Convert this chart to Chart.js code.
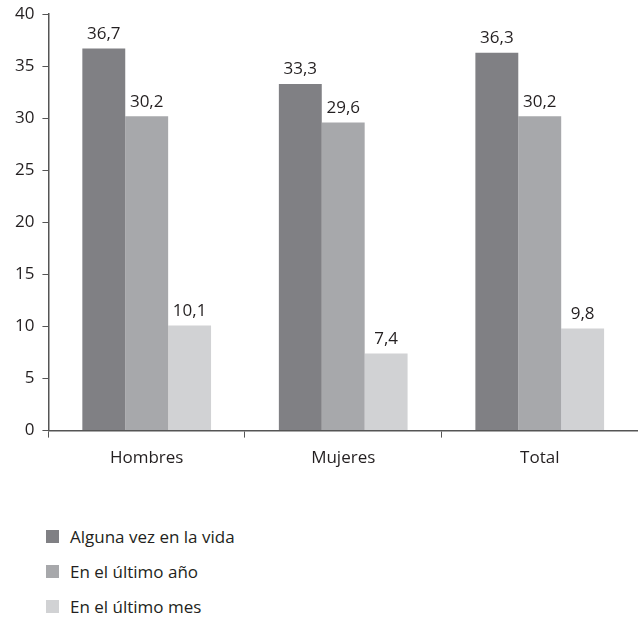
<!DOCTYPE html>
<html>
<head>
<meta charset="utf-8">
<script src="https://cdn.jsdelivr.net/npm/chart.js@4/dist/chart.umd.min.js"></script>
<style>
body{margin:0;background:#fff;font-family:"Open Sans",sans-serif;color:#231f20;overflow:hidden}
#wrap{position:absolute;left:0;top:-4px;width:638px;height:482px}
#legend{position:absolute;left:46px;top:525px;font-size:17px}
#legend div{height:35px;display:flex;align-items:flex-start}
#legend span.box{display:inline-block;width:13px;height:13px;margin-right:11px;margin-top:5px}
</style>
</head>
<body>
<div id="wrap"><canvas id="grafico"></canvas></div>
<div id="legend"></div>
<script>
// datos
const categorias=["Hombres","Mujeres","Total"];
const series=["Alguna vez en la vida","En el último año","En el último mes"];
const algunaVez=[36.7,33.3,36.3];
const ultimoAno=[30.2,29.6,30.2];
const ultimoMes=[10.1,7.4,9.8];
const colores=["#808084","#a7a8ab","#d1d2d4"];

const textoColor="#231f20";
const fuente={family:"'Open Sans', sans-serif",size:17};

// etiquetas encima de las barras
const etiquetas={
id:"etiquetas",
afterDatasetsDraw(chart){
const ctx=chart.ctx;
ctx.save();
ctx.font="17px 'Open Sans', sans-serif";
ctx.fillStyle=textoColor;
ctx.textAlign="center";
ctx.textBaseline="bottom";
chart.data.datasets.forEach((ds,i)=>{
chart.getDatasetMeta(i).data.forEach((bar,j)=>{
ctx.fillText(ds.data[j].toFixed(1).replace(".",","),bar.x,bar.y-6);
});
});
ctx.restore();
}
};

const grafico=new Chart(document.getElementById("grafico"),{
type:"bar",
data:{
labels:categorias,
datasets:[
{label:series[0],data:algunaVez,backgroundColor:colores[0]},
{label:series[1],data:ultimoAno,backgroundColor:colores[1]},
{label:series[2],data:ultimoMes,backgroundColor:colores[2]}
]
},
options:{
responsive:true,
maintainAspectRatio:false,
animation:false,
layout:{padding:{top:1,right:0,left:7,bottom:0}},
plugins:{legend:{display:false},tooltip:{enabled:false}},
datasets:{bar:{categoryPercentage:0.655,barPercentage:1}},
scales:{
x:{
grid:{display:true,drawOnChartArea:false,drawTicks:true,tickLength:7,color:"#555",offset:true},
border:{display:true,color:"#555",width:1.5},
ticks:{color:textoColor,font:fuente,padding:10}
},
y:{
min:0,max:40,
grid:{display:true,drawOnChartArea:false,drawTicks:true,tickLength:6,color:"#555"},
border:{display:true,color:"#555",width:1.5},
ticks:{stepSize:5,color:textoColor,font:fuente,padding:8}
}
}
},
plugins:[etiquetas]
});

// leyenda vertical
const leyenda=document.getElementById("legend");
grafico.data.datasets.forEach(ds=>{
const fila=document.createElement("div");
fila.innerHTML='<span class="box" style="background:'+ds.backgroundColor+'"></span>'+ds.label;
leyenda.appendChild(fila);
});
</script>
</body>
</html>
